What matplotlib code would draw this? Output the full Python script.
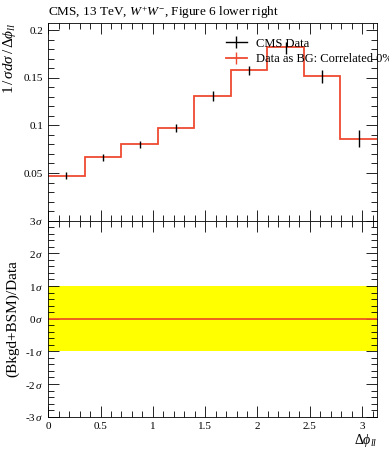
import numpy as np
import matplotlib
matplotlib.use("Agg")
import matplotlib.pyplot as plt
from matplotlib.lines import Line2D
from matplotlib.ticker import MultipleLocator, FixedLocator

plt.rcParams.update({
    "font.family": ["Liberation Serif", "DejaVu Serif"],
    "mathtext.fontset": "custom",
    "mathtext.rm": "Liberation Serif",
    "mathtext.it": "Liberation Serif:italic",
    "font.size": 8,
})

# Daten
n_bins = 9
bin_edges = np.linspace(0, np.pi, n_bins + 1)
data_vals = [0.0472, 0.0665, 0.0800, 0.0972, 0.1307, 0.1577, 0.1810, 0.1514, 0.0860]
data_errs = [0.0035, 0.0038, 0.0040, 0.0045, 0.0054, 0.0050, 0.0060, 0.0065, 0.0087]
bg_vals   = [0.0472, 0.0665, 0.0800, 0.0972, 0.1307, 0.1577, 0.1824, 0.1514, 0.0860]

RED = "#ee4a30"

fig = plt.figure(figsize=(3.89, 4.5), dpi=100)
ax1 = fig.add_axes([0.124, 0.5096, 0.845, 0.44])
ax2 = fig.add_axes([0.124, 0.074, 0.845, 0.4356], sharex=ax1)

centers = 0.5 * (bin_edges[:-1] + bin_edges[1:])

# Oberes Panel
ax1.stairs(bg_vals, bin_edges, baseline=None, color=RED, linewidth=1.3, zorder=2)
ax1.errorbar(centers, data_vals, yerr=data_errs, fmt="none", ecolor="black",
             elinewidth=1.0, capsize=0, zorder=3)
ax1.set_xlim(0, np.pi)
ax1.set_ylim(0, 0.2077)
ax1.yaxis.set_major_locator(FixedLocator([0.05, 0.1, 0.15, 0.2]))
ax1.set_yticklabels(["0.05", "0.1", "0.15", "0.2"])
ax1.yaxis.set_minor_locator(MultipleLocator(0.01))
ax1.set_ylabel(r"$1\,/\,\sigma d\sigma\,/\,\Delta\phi_{ll}$", loc="top", fontsize=11)
ax1.tick_params(labelbottom=False)
ax1.text(0.0, 1.035, r"CMS, 13 TeV, $W^{+}W^{-}$, Figure 6 lower right",
         transform=ax1.transAxes, ha="left", va="baseline", fontsize=9.5)

handles = [
    Line2D([], [], color="black", lw=1.0, marker="|", markersize=9, markeredgewidth=1.0),
    Line2D([], [], color=RED, lw=1.3, marker="|", markersize=9, markeredgewidth=1.0),
]
leg = ax1.legend(handles, ["CMS Data", "Data as BG: Correlated 0%"],
                 loc="upper left", bbox_to_anchor=(0.525, 0.95), frameon=False,
                 handlelength=1.7, handletextpad=0.7, labelspacing=0.3,
                 fontsize=9, borderaxespad=0)

# Unteres Panel
ax2.axhspan(-1, 1, color="#ffff00", lw=0, zorder=1)
ax2.axhline(0, color="#ee5522", lw=1.3, zorder=2)
ax2.set_ylim(-3, 3)
ax2.yaxis.set_minor_locator(MultipleLocator(0.2))
ax2.set_yticks([-3, -2, -1, 0, 1, 2, 3])
ax2.set_yticklabels([f"{v}$\\,\\sigma$" for v in [-3, -2, -1, 0, 1, 2, 3]])
ax2.set_ylabel("(Bkgd+BSM)/Data", fontsize=11)
ax2.xaxis.set_minor_locator(MultipleLocator(0.1))
ax2.set_xticks([0, 0.5, 1, 1.5, 2, 2.5, 3])
ax2.set_xticklabels(["0", "0.5", "1", "1.5", "2", "2.5", "3"])
ax2.set_xlabel(r"$\Delta\phi_{ll}$", loc="right", fontsize=10, labelpad=1)

for ax in (ax1, ax2):
    ax.tick_params(which="both", direction="in", top=True, right=True, labelsize=8)
    ax.tick_params(which="major", length=8, width=0.6)
    ax.tick_params(which="minor", length=4, width=0.6)
    for sp in ax.spines.values():
        sp.set_linewidth(0.6)

fig.align_ylabels([ax1, ax2])
fig.savefig("out.png", dpi=100)
